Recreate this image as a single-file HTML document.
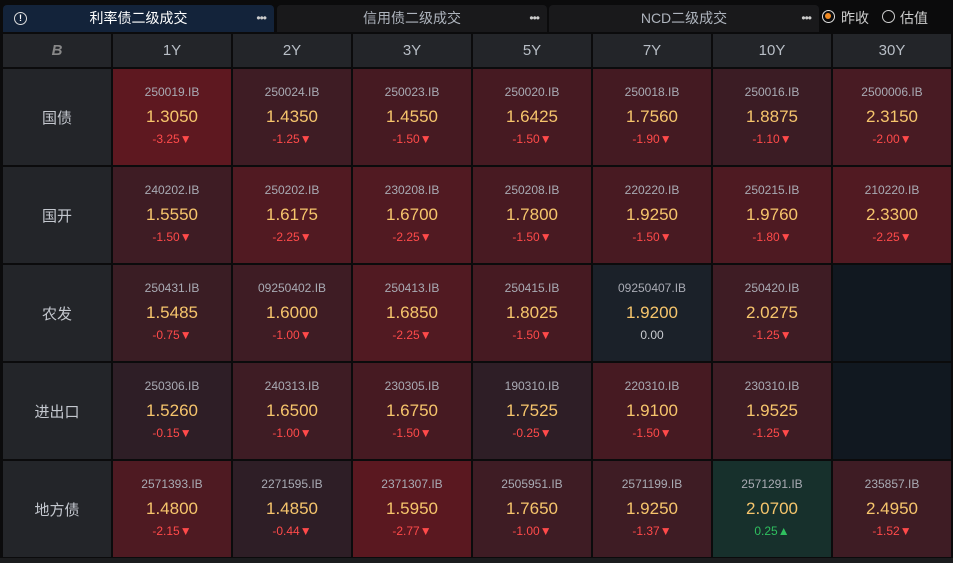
<!DOCTYPE html>
<html><head><meta charset="utf-8"><style>
*{margin:0;padding:0;box-sizing:border-box}
body{width:953px;height:563px;background:#0b0b0c;font-family:"Liberation Sans","Noto Sans CJK SC",sans-serif;position:relative;overflow:hidden}
.tab{position:absolute;top:5px;height:27px;border-radius:4px 4px 0 0;color:#aeb4bd;font-size:14px;line-height:27px;text-align:center}
.dots{position:absolute;right:8px;top:0;font-size:12px;color:#ccc;letter-spacing:-1px}
.grid{position:absolute;left:3px;top:34px;display:grid;grid-template-columns:108px repeat(7,118px);grid-template-rows:33px repeat(5,96px);gap:2px}
.h{background:#232529;color:#b8bec6;font-size:15px;display:flex;align-items:center;justify-content:center}
.l{background:#232529;color:#c4c8cf;font-size:15px;display:flex;align-items:center;justify-content:center}
.c{text-align:center;position:relative}
.c .a{position:absolute;top:16px;width:100%;font-size:12px;color:#a9abb4}
.c .v{position:absolute;top:38px;width:100%;font-size:17px;color:#f6c56c}
.c .d{position:absolute;top:63px;width:100%;font-size:12px;color:#ff4a4a}
.g .d{color:#2fbf5f}
.n .d{color:#c9cbd0}
</style></head><body>
<div class="tab" style="left:3px;width:271px;background:#13233a;color:#fff"><span style="position:absolute;left:11px;top:7px;width:13px;height:13px;border:1.5px solid #ddd;border-radius:50%;font-size:9px;line-height:10px;font-weight:bold">!</span>利率债二级成交<span class="dots">•••</span></div>
<div class="tab" style="left:277px;width:270px;background:#19191b">信用债二级成交<span class="dots">•••</span></div>
<div class="tab" style="left:549px;width:270px;background:#19191b">NCD二级成交<span class="dots">•••</span></div>
<div style="position:absolute;left:822px;top:10px;width:13px;height:13px;border:1.5px solid #ddd;border-radius:50%"><div style="margin:2px;width:6px;height:6px;border-radius:50%;background:#f08a24"></div></div>
<div style="position:absolute;left:841px;top:8px;color:#ccc;font-size:14px">昨收</div>
<div style="position:absolute;left:882px;top:10px;width:13px;height:13px;border:1.5px solid #ccc;border-radius:50%"></div>
<div style="position:absolute;left:900px;top:8px;color:#ccc;font-size:14px">估值</div>
<div class="grid">
<div class="h" style="color:#888;font-weight:bold;font-style:italic">B</div><div class="h">1Y</div><div class="h">2Y</div><div class="h">3Y</div><div class="h">5Y</div><div class="h">7Y</div><div class="h">10Y</div><div class="h">30Y</div>

<div class="l">国债</div>
<div class="c" style="background:#5e1820"><div class="a">250019.IB</div><div class="v">1.3050</div><div class="d">-3.25▼</div></div>
<div class="c" style="background:#3e1c24"><div class="a">250024.IB</div><div class="v">1.4350</div><div class="d">-1.25▼</div></div>
<div class="c" style="background:#461a22"><div class="a">250023.IB</div><div class="v">1.4550</div><div class="d">-1.50▼</div></div>
<div class="c" style="background:#461a22"><div class="a">250020.IB</div><div class="v">1.6425</div><div class="d">-1.50▼</div></div>
<div class="c" style="background:#441a22"><div class="a">250018.IB</div><div class="v">1.7560</div><div class="d">-1.90▼</div></div>
<div class="c" style="background:#3b1c24"><div class="a">250016.IB</div><div class="v">1.8875</div><div class="d">-1.10▼</div></div>
<div class="c" style="background:#481b23"><div class="a">2500006.IB</div><div class="v">2.3150</div><div class="d">-2.00▼</div></div>

<div class="l">国开</div>
<div class="c" style="background:#3e1c24"><div class="a">240202.IB</div><div class="v">1.5550</div><div class="d">-1.50▼</div></div>
<div class="c" style="background:#511a22"><div class="a">250202.IB</div><div class="v">1.6175</div><div class="d">-2.25▼</div></div>
<div class="c" style="background:#511a22"><div class="a">230208.IB</div><div class="v">1.6700</div><div class="d">-2.25▼</div></div>
<div class="c" style="background:#481a22"><div class="a">250208.IB</div><div class="v">1.7800</div><div class="d">-1.50▼</div></div>
<div class="c" style="background:#481a22"><div class="a">220220.IB</div><div class="v">1.9250</div><div class="d">-1.50▼</div></div>
<div class="c" style="background:#4e1a22"><div class="a">250215.IB</div><div class="v">1.9760</div><div class="d">-1.80▼</div></div>
<div class="c" style="background:#511a22"><div class="a">210220.IB</div><div class="v">2.3300</div><div class="d">-2.25▼</div></div>

<div class="l">农发</div>
<div class="c" style="background:#3a1d24"><div class="a">250431.IB</div><div class="v">1.5485</div><div class="d">-0.75▼</div></div>
<div class="c" style="background:#3e1c24"><div class="a">09250402.IB</div><div class="v">1.6000</div><div class="d">-1.00▼</div></div>
<div class="c" style="background:#511a22"><div class="a">250413.IB</div><div class="v">1.6850</div><div class="d">-2.25▼</div></div>
<div class="c" style="background:#461a22"><div class="a">250415.IB</div><div class="v">1.8025</div><div class="d">-1.50▼</div></div>
<div class="c n" style="background:#1b2129"><div class="a">09250407.IB</div><div class="v">1.9200</div><div class="d">0.00</div></div>
<div class="c" style="background:#3e1c24"><div class="a">250420.IB</div><div class="v">2.0275</div><div class="d">-1.25▼</div></div>
<div class="c" style="background:#111820"></div>

<div class="l">进出口</div>
<div class="c" style="background:#2e1e26"><div class="a">250306.IB</div><div class="v">1.5260</div><div class="d">-0.15▼</div></div>
<div class="c" style="background:#3e1c24"><div class="a">240313.IB</div><div class="v">1.6500</div><div class="d">-1.00▼</div></div>
<div class="c" style="background:#461a22"><div class="a">230305.IB</div><div class="v">1.6750</div><div class="d">-1.50▼</div></div>
<div class="c" style="background:#2e1e26"><div class="a">190310.IB</div><div class="v">1.7525</div><div class="d">-0.25▼</div></div>
<div class="c" style="background:#461a22"><div class="a">220310.IB</div><div class="v">1.9100</div><div class="d">-1.50▼</div></div>
<div class="c" style="background:#3e1c24"><div class="a">230310.IB</div><div class="v">1.9525</div><div class="d">-1.25▼</div></div>
<div class="c" style="background:#111820"></div>

<div class="l">地方债</div>
<div class="c" style="background:#4e1a22"><div class="a">2571393.IB</div><div class="v">1.4800</div><div class="d">-2.15▼</div></div>
<div class="c" style="background:#2e1e26"><div class="a">2271595.IB</div><div class="v">1.4850</div><div class="d">-0.44▼</div></div>
<div class="c" style="background:#5a1820"><div class="a">2371307.IB</div><div class="v">1.5950</div><div class="d">-2.77▼</div></div>
<div class="c" style="background:#3e1c24"><div class="a">2505951.IB</div><div class="v">1.7650</div><div class="d">-1.00▼</div></div>
<div class="c" style="background:#3e1c24"><div class="a">2571199.IB</div><div class="v">1.9250</div><div class="d">-1.37▼</div></div>
<div class="c g" style="background:#17302c"><div class="a">2571291.IB</div><div class="v">2.0700</div><div class="d">0.25▲</div></div>
<div class="c" style="background:#3e1c24"><div class="a">235857.IB</div><div class="v">2.4950</div><div class="d">-1.52▼</div></div>
</div>
<div style="position:absolute;left:0;top:558px;width:953px;height:5px;background:#1b1c1e"></div>
</body></html>
